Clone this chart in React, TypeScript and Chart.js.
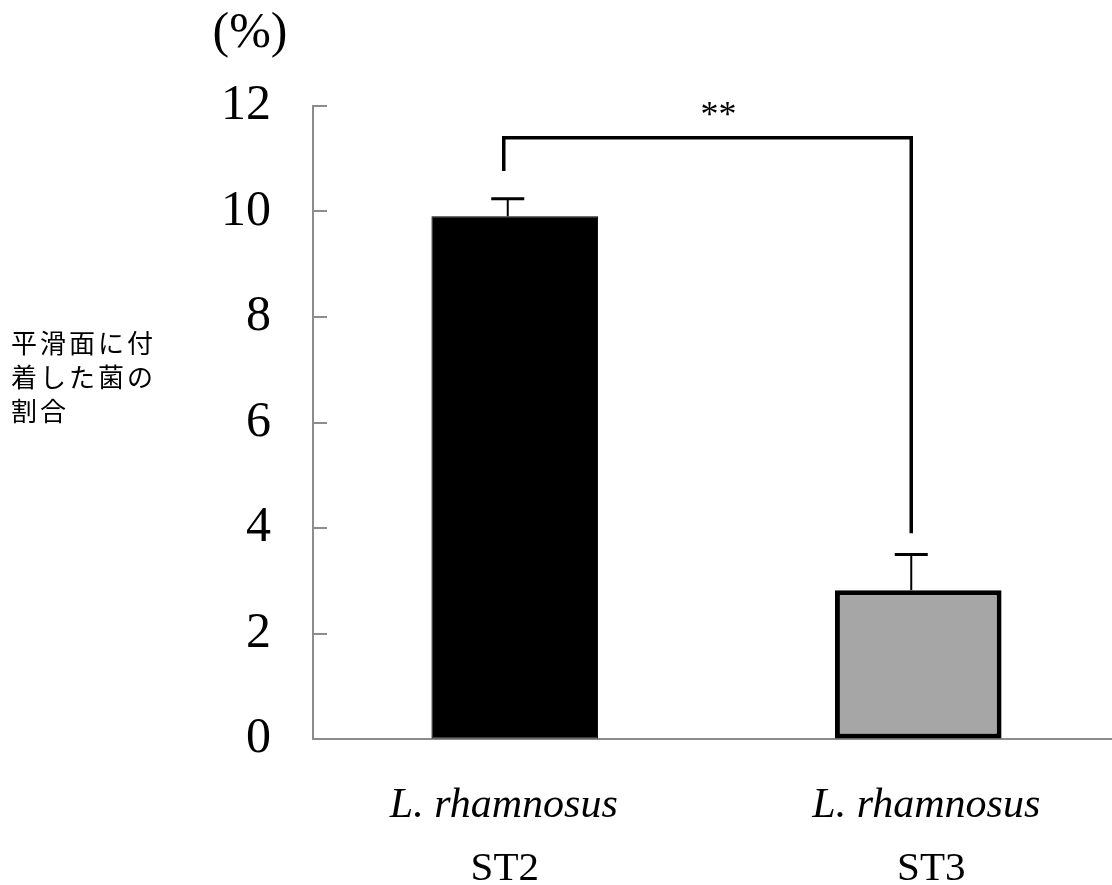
import React, { useEffect, useRef } from "react";
import { Chart, registerables } from "chart.js";

Chart.register(...registerables);

// ---- data ----
const categoryLine1 = ["L. rhamnosus", "L. rhamnosus"];
const categoryLine2 = ["ST2", "ST3"];
const values = [9.91, 2.82];
const errors = [0.33, 0.68];
const barColors = ["#000000", "#a6a6a6"];
const yMin = 0;
const yMax = 12;
const yStep = 2;
const yAxisTitleLines = ["平滑面に付", "着した菌の", "割合"];
const unitLabel = "(%)";
const significanceLabel = "**";
const bracketTopValue = 11.4;
const bracketLeftEndValue = 10.77;
const bracketRightEndValue = 3.9;

const SERIF = "'Liberation Serif', 'Times New Roman', serif";
const CJK = "'Noto Sans CJK JP', sans-serif";
const AXIS_GRAY = "#8c8c8c";
const LINE1_OFFSETS = [-11, 8];
const LINE2_OFFSETS = [-10, 13];

const overlayPlugin = {
  id: "overlay",
  afterDraw(chart: any) {
    const { ctx, chartArea } = chart;
    const yScale = chart.scales.y;
    const xScale = chart.scales.x;
    const meta = chart.getDatasetMeta(0);
    ctx.save();

    // inward tick marks
    ctx.strokeStyle = AXIS_GRAY;
    ctx.lineWidth = 2;
    for (let v = yMin; v <= yMax; v += yStep) {
      const y = Math.round(yScale.getPixelForValue(v));
      ctx.beginPath();
      ctx.moveTo(chartArea.left, y);
      ctx.lineTo(chartArea.left + 14, y);
      ctx.stroke();
    }

    // error bars (upper only)
    ctx.strokeStyle = "#000";
    meta.data.forEach((el: any, i: number) => {
      const x = el.x - 7;
      const yTop = yScale.getPixelForValue(values[i] + errors[i]);
      const yBar = yScale.getPixelForValue(values[i]);
      ctx.lineWidth = 2;
      ctx.beginPath();
      ctx.moveTo(x, yBar);
      ctx.lineTo(x, yTop);
      ctx.stroke();
      ctx.lineWidth = 3;
      ctx.beginPath();
      ctx.moveTo(x - 16.5, yTop);
      ctx.lineTo(x + 16.5, yTop);
      ctx.stroke();
    });

    // significance bracket
    const xL = meta.data[0].x - 11;
    const xR = meta.data[1].x - 7;
    const yT = yScale.getPixelForValue(bracketTopValue);
    ctx.lineWidth = 3.5;
    ctx.lineJoin = "miter";
    ctx.beginPath();
    ctx.moveTo(xL, yScale.getPixelForValue(bracketLeftEndValue));
    ctx.lineTo(xL, yT);
    ctx.lineTo(xR, yT);
    ctx.lineTo(xR, yScale.getPixelForValue(bracketRightEndValue));
    ctx.stroke();

    ctx.fillStyle = "#000";
    ctx.textAlign = "center";
    ctx.textBaseline = "alphabetic";
    ctx.font = `36px ${SERIF}`;
    ctx.fillText(significanceLabel, (meta.data[0].x + meta.data[1].x) / 2 + 2, yT - 12);

    // unit label
    ctx.font = `50px ${SERIF}`;
    ctx.fillText(unitLabel, chartArea.left - 63, chartArea.top - 59);

    // y-axis title (Japanese), left aligned, fixed character advance
    ctx.font = `26px ${CJK}`;
    ctx.textAlign = "left";
    ctx.textBaseline = "middle";
    yAxisTitleLines.forEach((line, li) => {
      const y = 343 + li * 34;
      Array.from(line).forEach((ch, ci) => {
        ctx.fillText(ch, 11 + ci * 29, y);
      });
    });

    // category labels
    ctx.textAlign = "center";
    ctx.textBaseline = "alphabetic";
    const base = xScale.top;
    meta.data.forEach((el: any, i: number) => {
      ctx.font = `italic 42px ${SERIF}`;
      ctx.fillText(categoryLine1[i], el.x + LINE1_OFFSETS[i], base + 78);
      ctx.font = `41px ${SERIF}`;
      ctx.fillText(categoryLine2[i], el.x + LINE2_OFFSETS[i], base + 141);
    });

    ctx.restore();
  },
};

export default function App() {
  const canvasRef = useRef<HTMLCanvasElement | null>(null);

  useEffect(() => {
    const canvas = canvasRef.current;
    if (!canvas) return;
    const chart = new Chart(canvas, {
      type: "bar",
      data: {
        labels: categoryLine2,
        datasets: [
          {
            data: values,
            backgroundColor: barColors,
            borderColor: "#000000",
            borderWidth: [1, 5],
            borderSkipped: false,
            categoryPercentage: 1,
            barPercentage: 0.413,
          },
        ],
      },
      options: {
        animation: false,
        responsive: false,
        maintainAspectRatio: false,
        layout: { padding: { top: 106, left: 0, right: 0, bottom: 0 } },
        plugins: {
          legend: { display: false },
          tooltip: { enabled: false },
        },
        scales: {
          x: {
            type: "category",
            grid: { display: false },
            border: { display: true, color: AXIS_GRAY, width: 2 },
            ticks: { display: false },
            afterFit: (s: any) => {
              s.height = 146;
            },
          },
          y: {
            min: yMin,
            max: yMax,
            grid: { display: true, drawOnChartArea: false, drawTicks: false },
            border: { display: true, color: AXIS_GRAY, width: 2 },
            ticks: {
              stepSize: yStep,
              color: "#000",
              padding: 42,
              font: { family: SERIF, size: 50 },
            },
            afterFit: (s: any) => {
              s.width = 313;
            },
          },
        },
      },
      plugins: [overlayPlugin],
    });
    return () => chart.destroy();
  }, []);

  return (
    <div
      style={{
        position: "fixed",
        left: 0,
        top: 0,
        width: 1112,
        height: 885,
        overflow: "hidden",
        background: "#fff",
      }}
    >
      <canvas ref={canvasRef} width={1120} height={885} style={{ display: "block" }} />
    </div>
  );
}
